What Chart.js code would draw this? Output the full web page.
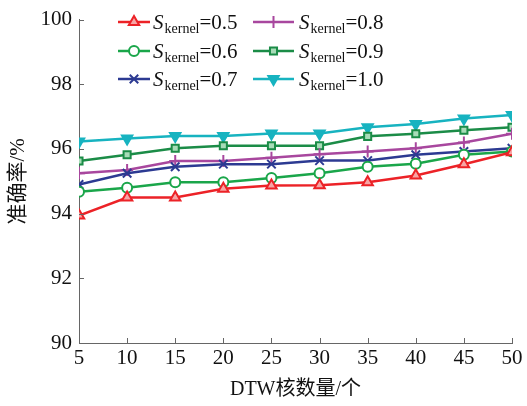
<!DOCTYPE html>
<html>
<head>
<meta charset="utf-8">
<script src="https://cdn.jsdelivr.net/npm/chart.js@4/dist/chart.umd.min.js"></script>
<style>
  html, body { margin: 0; padding: 0; background: #fff; }
  #wrap { width: 527px; height: 406px; position: relative; }
</style>
</head>
<body>
<div id="wrap"><canvas id="c" width="527" height="406"></canvas></div>
<script>
// DTW kernel counts (x axis)
const kernelCounts = [5, 10, 15, 20, 25, 30, 35, 40, 45, 50];
const yTicks = [90, 92, 94, 96, 98, 100];
const xTicks = [5, 10, 15, 20, 25, 30, 35, 40, 45, 50];

// accuracy (%) per S_kernel
const kernelLabels = ['0.5', '0.6', '0.7', '0.8', '0.9', '1.0'];
const acc05 = [93.94, 94.50, 94.50, 94.77, 94.87, 94.88, 94.97, 95.18, 95.53, 95.90];
const acc06 = [94.68, 94.80, 94.97, 94.97, 95.10, 95.25, 95.45, 95.54, 95.82, 95.92];
const acc07 = [94.90, 95.25, 95.45, 95.53, 95.53, 95.64, 95.64, 95.82, 95.92, 96.02];
const acc08 = [95.25, 95.35, 95.63, 95.63, 95.73, 95.84, 95.92, 96.02, 96.20, 96.47];
const acc09 = [95.63, 95.82, 96.02, 96.10, 96.10, 96.10, 96.39, 96.47, 96.58, 96.67];
const acc10 = [96.23, 96.32, 96.40, 96.40, 96.48, 96.48, 96.67, 96.77, 96.94, 97.05];

const seriesValues = [acc05, acc06, acc07, acc08, acc09, acc10];
const colors = ['#ec2227', '#1aa64a', '#2c3a92', '#a8479e', '#1b8c47', '#17b3c0'];
const styles = [
    { pointStyle: 'triangle', rotation: 0, fill: '#f7a5a5' },
    { pointStyle: 'circle', rotation: 0, fill: '#ffffff' },
    { pointStyle: 'crossRot', rotation: 0, fill: '#2c3a92' },
    { pointStyle: 'cross', rotation: 0, fill: '#a8479e' },
    { pointStyle: 'rect', rotation: 0, fill: '#a8dcb8' },
    { pointStyle: 'triangle', rotation: 180, fill: '#17b3c0' }
];

const serif = '"Liberation Serif", "Times New Roman", serif';
const mixed = '"Liberation Serif", "Noto Sans CJK SC", serif';

const datasets = seriesValues.map((vals, i) => ({
    label: 'S_kernel=' + kernelLabels[i],
    data: kernelCounts.map((x, j) => ({ x: x, y: vals[j] })),
    borderColor: colors[i],
    backgroundColor: styles[i].fill,
    borderWidth: 2.5,
    pointStyle: styles[i].pointStyle,
    rotation: styles[i].rotation,
    pointRadius: i === 2 || i === 3 ? 6 : (i === 0 || i === 5 ? 6 : 5),
    pointBorderWidth: 2,
    pointBorderColor: colors[i],
    pointBackgroundColor: styles[i].fill,
    tension: 0
}));

// inward tick marks + custom legend with subscript
const decor = {
    id: 'decor',
    afterDraw(chart) {
        const ctx = chart.ctx;
        const xs = chart.scales.x, ys = chart.scales.y;
        const area = chart.chartArea;
        ctx.save();
        ctx.strokeStyle = '#666';
        ctx.lineWidth = 1;
        xTicks.forEach(v => {
            const px = Math.round(xs.getPixelForValue(v)) + 0.5;
            ctx.beginPath(); ctx.moveTo(px, area.bottom); ctx.lineTo(px, area.bottom - 5); ctx.stroke();
        });
        yTicks.forEach(v => {
            const py = Math.round(ys.getPixelForValue(v)) + 0.5;
            ctx.beginPath(); ctx.moveTo(area.left, py); ctx.lineTo(area.left + 5, py); ctx.stroke();
        });

        // legend
        const cols = [[118, 150, 153], [253, 294, 299]];
        const rows = [22, 51, 79];
        chart.data.datasets.forEach((ds, i) => {
            const c = cols[Math.floor(i / 3)], y = rows[i % 3];
            ctx.strokeStyle = ds.borderColor;
            ctx.lineWidth = 2.5;
            ctx.beginPath(); ctx.moveTo(c[0], y); ctx.lineTo(c[1], y); ctx.stroke();
            ctx.lineWidth = 2;
            ctx.fillStyle = ds.pointBackgroundColor;
            Chart.helpers.drawPoint(ctx, {
                pointStyle: ds.pointStyle, rotation: ds.rotation, radius: ds.pointRadius, borderWidth: 2
            }, (c[0] + c[1]) / 2, y);
            ctx.fillStyle = '#111';
            ctx.textBaseline = 'alphabetic';
            ctx.textAlign = 'left';
            let tx = c[2];
            ctx.font = 'italic 21px ' + serif;
            ctx.fillText('S', tx, y + 7);
            tx += ctx.measureText('S').width + 1;
            ctx.font = '14px ' + serif;
            ctx.fillText('kernel', tx, y + 11);
            tx += ctx.measureText('kernel').width;
            ctx.font = '21px ' + serif;
            ctx.fillText('=' + kernelLabels[i], tx, y + 7);
        });
        ctx.restore();
    }
};

new Chart(document.getElementById('c'), {
    type: 'line',
    data: { datasets: datasets },
    plugins: [decor],
    options: {
        responsive: false,
        animation: false,
        layout: { padding: { top: 10, right: 15, left: 0, bottom: 0 } },
        plugins: { legend: { display: false }, tooltip: { enabled: false } },
        scales: {
            x: {
                type: 'linear', min: 5, max: 50,
                afterBuildTicks: s => { s.ticks = xTicks.map(v => ({ value: v })); },
                afterFit: s => { s.height = 63; },
                grid: { display: true, drawOnChartArea: false, drawTicks: false },
                border: { color: '#666', width: 1 },
                ticks: { color: '#111', font: { family: serif, size: 21 }, padding: 3, maxRotation: 0 },
                title: { display: true, text: 'DTW核数量/个', color: '#111', font: { family: mixed, size: 20 }, padding: { top: 2 } }
            },
            y: {
                min: 90, max: 100,
                afterBuildTicks: s => { s.ticks = yTicks.map(v => ({ value: v })); },
                afterFit: s => { s.width = 79; },
                grid: { display: true, drawOnChartArea: false, drawTicks: false },
                border: { color: '#666', width: 1 },
                ticks: { color: '#111', font: { family: serif, size: 21 }, padding: 7 },
                title: { display: true, text: '准确率/%', color: '#111', font: { family: mixed, size: 21 }, padding: { top: 6, bottom: 0 } }
            }
        }
    }
});
</script>
</body>
</html>
